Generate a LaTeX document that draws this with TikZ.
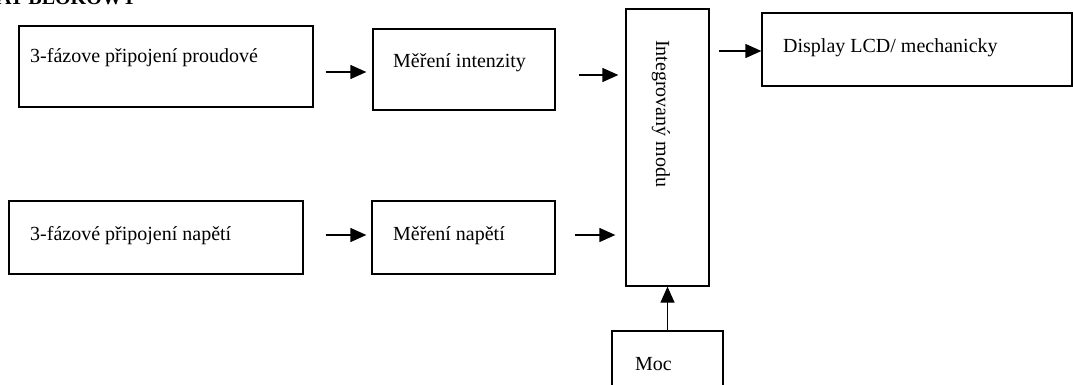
\documentclass[tikz,border=0pt]{standalone}
\usepackage{fontspec}
\setmainfont{Liberation Serif}
\usetikzlibrary{arrows.meta}
\tikzset{
  blk/.style={draw, line width=1.3pt, rectangle, inner sep=0pt},
  lbl/.style={inner sep=0pt, font=\fontsize{20}{24}\selectfont},
  arr/.style={line width=1.3pt, -{Triangle[length=16pt,width=14pt]}},
}
\begin{document}
\begin{tikzpicture}[x=1pt,y=-1pt]
\useasboundingbox (0,0) rectangle (1073,385);
\clip (0,0) rectangle (1073,385);
% title (cut at top)
\node[lbl, anchor=base west, font=\fontsize{20}{24}\selectfont\bfseries] (title) at (-3,5) {AT BLOKOWY};
% boxes
\node[blk, minimum width=294pt, minimum height=81pt] (p1) at (166,66.5) {};
\node[blk, minimum width=182pt, minimum height=81pt] (m1) at (464,69.5) {};
\node[blk, minimum width=83pt, minimum height=277pt] (I) at (667.5,147.5) {};
\node[blk, minimum width=310pt, minimum height=73pt] (D) at (917,49.5) {};
\node[blk, minimum width=294pt, minimum height=73pt] (p2) at (156,237.5) {};
\node[blk, minimum width=183pt, minimum height=73pt] (m2) at (463.5,237.5) {};
\node[blk, minimum width=111pt, minimum height=70pt] (moc) at (667.5,366) {};
% texts
\node[lbl, anchor=base west] (t1) at (30,63) {3-fázove připojení proudové};
\node[lbl, anchor=base west] (t2) at (393,68) {Měření intenzity};
\node[lbl, anchor=base west] (t3) at (783,53) {Display LCD/ mechanicky};
\node[lbl, anchor=base west] (t4) at (30,240) {3-fázové připojení napětí};
\node[lbl, anchor=base west] (t5) at (393,240) {Měření napětí};
\node[lbl, anchor=base west] (t6) at (635,370) {Moc};
\node[lbl, anchor=base west, rotate=-90] (t7) at (656,40) {Integrovaný modu};
% connectors
\draw[arr, shorten <=12pt, shorten >=6pt] ([yshift=-5.5pt]p1.east) -- ([yshift=-2.5pt]m1.west);
\draw[arr, shorten <=23pt, shorten >=7pt] ([yshift=-5.5pt]m1.east) -- ([yshift=72.5pt]I.west);
\draw[arr, shorten <=9pt] ([yshift=96.5pt]I.east) -- ([yshift=-1.5pt]D.west);
\draw[arr, shorten <=22pt, shorten >=5pt] ([yshift=2.5pt]p2.east) -- ([yshift=2.5pt]m2.west);
\draw[arr, shorten <=19pt, shorten >=10pt] ([yshift=2.5pt]m2.east) -- ([yshift=-87.5pt]I.west);
\draw[arr] (moc.north) -- (I.south);
\end{tikzpicture}
\end{document}
